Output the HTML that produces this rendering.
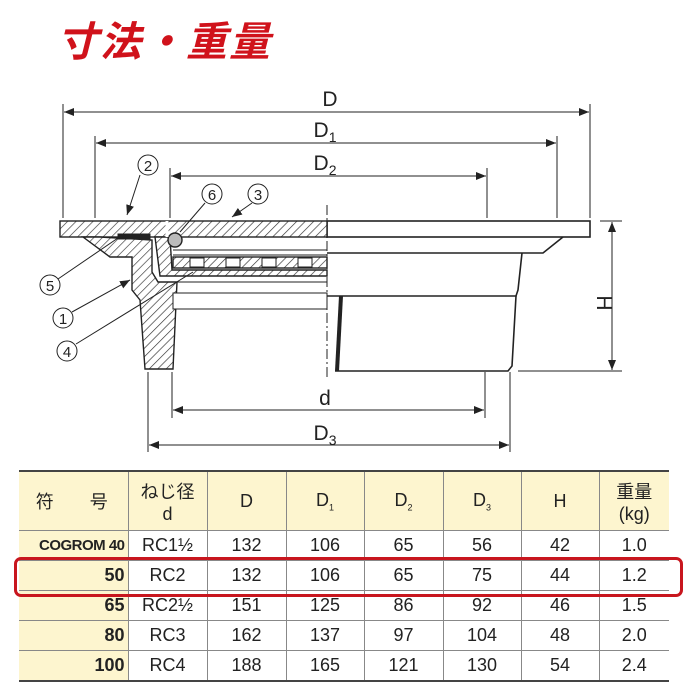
<!DOCTYPE html>
<html><head><meta charset="utf-8"><style>
body{margin:0;background:#fff;width:687px;height:687px;overflow:hidden;position:relative;font-family:"Liberation Sans","Noto Sans CJK JP",sans-serif}
.t{position:absolute;left:57px;top:8px;color:#d0121b;font-size:41px;font-weight:bold;font-style:italic;font-family:"Noto Sans CJK JP",sans-serif;letter-spacing:2px}
table{position:absolute;left:19px;top:470px;border-collapse:collapse;width:650px;table-layout:fixed;border-top:2px solid #444;border-bottom:2px solid #444}
td{border:1px solid #888;height:29px;padding:0;text-align:center;font-size:18px;color:#222}
tr:first-child td{height:58px;background:#fdf5cf}
td:first-child{background:#fdf5cf;text-align:right;padding-right:3px;font-weight:bold;border-left:none}
td:last-child{border-right:none}
sub{font-size:9px}
.red{position:absolute;left:14px;top:557px;width:663px;height:34px;border:3px solid #c8161e;border-radius:7px}
</style></head><body>
<div class="t">寸法・重量</div>
<svg width="687" height="470" style="position:absolute;left:0;top:0" font-family="Liberation Sans,sans-serif">
<defs>
<pattern id="h" width="6" height="6" patternUnits="userSpaceOnUse" patternTransform="rotate(45)"><rect width="6" height="6" fill="#fff"/><line x1="0" y1="0" x2="0" y2="6" stroke="#333" stroke-width="1.3"/></pattern>
<marker id="a" markerWidth="10" markerHeight="8" refX="10" refY="4" orient="auto-start-reverse" markerUnits="userSpaceOnUse"><path d="M0,0L10,4L0,8z" fill="#222"/></marker>
</defs>
<g stroke="#222" stroke-width="1" fill="none">
<line x1="63" y1="104" x2="63" y2="218"/><line x1="590" y1="104" x2="590" y2="218"/>
<line x1="95" y1="136" x2="95" y2="218"/><line x1="557" y1="136" x2="557" y2="218"/>
<line x1="170" y1="168" x2="170" y2="218"/><line x1="487" y1="168" x2="487" y2="218"/>
<line x1="172" y1="372" x2="172" y2="418"/><line x1="485" y1="372" x2="485" y2="418"/>
<line x1="148" y1="372" x2="148" y2="452"/><line x1="510" y1="372" x2="510" y2="452"/>
<line x1="600" y1="221" x2="622" y2="221"/><line x1="518" y1="371" x2="622" y2="371"/>
<line x1="327" y1="205" x2="327" y2="380" stroke-dasharray="10,3,2,3"/>
<line x1="64" y1="112" x2="589" y2="112" marker-start="url(#a)" marker-end="url(#a)"/>
<line x1="96" y1="143" x2="556" y2="143" marker-start="url(#a)" marker-end="url(#a)"/>
<line x1="171" y1="176" x2="486" y2="176" marker-start="url(#a)" marker-end="url(#a)"/>
<line x1="173" y1="410" x2="484" y2="410" marker-start="url(#a)" marker-end="url(#a)"/>
<line x1="149" y1="445" x2="509" y2="445" marker-start="url(#a)" marker-end="url(#a)"/>
<line x1="612" y1="222" x2="612" y2="370" marker-start="url(#a)" marker-end="url(#a)"/>
<g stroke-width="1.6">
<rect x="327" y="221" width="263" height="16" fill="#fff"/>
<path d="M563,237 L543,253 L327,253"/>
<path d="M522,253 L518,290 L516,296 L327,296"/>
<path d="M516,296 L512,366 L508,371 L335,371"/>
</g>
<line x1="341" y1="296" x2="337" y2="371" stroke-width="4"/>
<g stroke-width="1.4" fill="url(#h)">
<rect x="60" y="221" width="267" height="16"/>
<path d="M83,237 L110,257 L132,257 L132,290 L140,300 L145,369 L173,369 L177,282 L158,282 L152,272 L152,240 L100,237 Z"/>
<path d="M155,237 L170,237 L172,270 L327,270 L327,276 L160,276 Z"/>
<rect x="173" y="257" width="154" height="11"/>
</g>
<g fill="#fff" stroke-width="1">
<rect x="190" y="258" width="14" height="9"/><rect x="226" y="258" width="14" height="9"/><rect x="262" y="258" width="14" height="9"/><rect x="298" y="258" width="14" height="9"/>
</g>
<rect x="118" y="234" width="32" height="5" fill="#222"/>
<line x1="173" y1="250" x2="327" y2="250"/><line x1="173" y1="255" x2="327" y2="255"/>
<line x1="173" y1="282" x2="327" y2="282"/>
<rect x="173" y="293" width="154" height="16" fill="#fff"/>
<circle cx="175" cy="240" r="7" fill="#bbb" stroke-width="1.4"/>
<line x1="167" y1="221" x2="167" y2="237" stroke="#fff" stroke-width="3"/>
<g font-size="15" fill="#222" stroke="none" text-anchor="middle">
<circle cx="148" cy="165" r="10" fill="#fff" stroke="#222"/><text x="148" y="171">2</text>
<circle cx="212" cy="194" r="10" fill="#fff" stroke="#222"/><text x="212" y="200">6</text>
<circle cx="258" cy="194" r="10" fill="#fff" stroke="#222"/><text x="258" y="200">3</text>
<circle cx="50" cy="285" r="10" fill="#fff" stroke="#222"/><text x="50" y="291">5</text>
<circle cx="63" cy="318" r="10" fill="#fff" stroke="#222"/><text x="63" y="324">1</text>
<circle cx="67" cy="351" r="10" fill="#fff" stroke="#222"/><text x="67" y="357">4</text>
</g>
<line x1="140" y1="175" x2="127" y2="215" marker-end="url(#a)"/>
<line x1="205" y1="203" x2="180" y2="232"/>
<line x1="252" y1="203" x2="232" y2="217" marker-end="url(#a)"/>
<line x1="58" y1="279" x2="118" y2="238"/>
<line x1="72" y1="312" x2="130" y2="280" marker-end="url(#a)"/>
<line x1="76" y1="344" x2="193" y2="272"/>
</g>
<g fill="#222" font-size="21" text-anchor="middle">
<text x="330" y="106">D</text>
<text x="325" y="137">D<tspan font-size="14" dy="5">1</tspan></text>
<text x="325" y="170">D<tspan font-size="14" dy="5">2</tspan></text>
<text x="325" y="405">d</text>
<text x="325" y="440">D<tspan font-size="14" dy="5">3</tspan></text>
<text transform="translate(597,303) rotate(90)" x="0" y="0">H</text>
</g>
</svg>
<table>
<colgroup><col style="width:109px"><col style="width:79px"><col style="width:79px"><col style="width:78px"><col style="width:79px"><col style="width:78px"><col style="width:78px"><col style="width:70px"></colgroup>
<tr><td style="text-align:center;font-weight:normal">符　　号</td><td>ねじ径<br>d</td><td>D</td><td>D<sub>1</sub></td><td>D<sub>2</sub></td><td>D<sub>3</sub></td><td>H</td><td>重量<br>(kg)</td></tr>
<tr><td style="font-size:15px;letter-spacing:-0.5px">COGROM 40</td><td>RC1½</td><td>132</td><td>106</td><td>65</td><td>56</td><td>42</td><td>1.0</td></tr>
<tr><td>50</td><td>RC2</td><td>132</td><td>106</td><td>65</td><td>75</td><td>44</td><td>1.2</td></tr>
<tr><td>65</td><td>RC2½</td><td>151</td><td>125</td><td>86</td><td>92</td><td>46</td><td>1.5</td></tr>
<tr><td>80</td><td>RC3</td><td>162</td><td>137</td><td>97</td><td>104</td><td>48</td><td>2.0</td></tr>
<tr><td>100</td><td>RC4</td><td>188</td><td>165</td><td>121</td><td>130</td><td>54</td><td>2.4</td></tr>
</table>
<div class="red"></div>
</body></html>
